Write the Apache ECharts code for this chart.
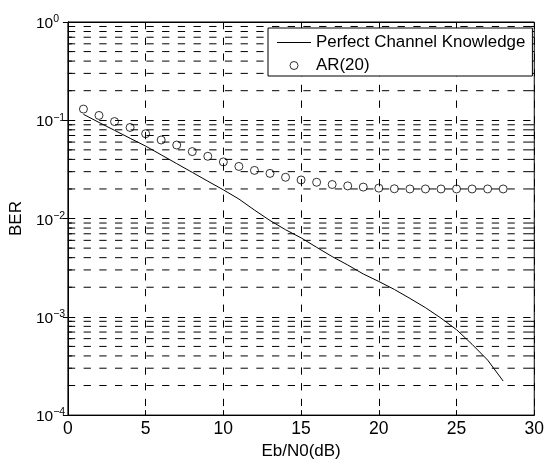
<!DOCTYPE html>
<html>
<head>
<meta charset="utf-8">
<script src="https://cdn.jsdelivr.net/npm/echarts@6/dist/echarts.min.js"></script>
<style>
html,body{margin:0;padding:0;background:#fff;}
#chart{width:547px;height:465px;}
</style>
</head>
<body>
<div id="chart"></div>
<script>
// Eb/N0 (dB)
var ebn0 = [1,2,3,4,5,6,7,8,9,10,11,12,13,14,15,16,17,18,19,20,21,22,23,24,25,26,27,28];
// BER, perfect channel knowledge
var berPerfect = [0.115,0.095,0.079,0.0656,0.0546,0.0445,0.0362,0.0295,0.024,0.0196,0.0158,0.0122,0.00955,0.0077,0.00636,0.0051,0.0041,0.00337,0.00273,0.00229,0.0019,0.00154,0.00124,0.00097,0.00074,0.000525,0.000363,0.000222];
// BER, AR(20)
var berAR = [0.130,0.112,0.097,0.0845,0.073,0.063,0.056,0.048,0.043,0.0377,0.0339,0.0309,0.0288,0.0263,0.0247,0.0234,0.0222,0.0215,0.0209,0.0204,0.0201,0.0200,0.0200,0.0200,0.0200,0.0200,0.0200,0.0200];
// axis ticks
var xTicks = [0,5,10,15,20,25,30];
var yDecades = [1e-4,1e-3,1e-2,1e-1,1];
var minorMultipliers = [2,3,4,5,6,7,8,9];

var minorValues = [];
for (var d = 0; d < yDecades.length - 1; d++) {
  for (var m = 0; m < minorMultipliers.length; m++) {
    minorValues.push([0, minorMultipliers[m] * yDecades[d]]);
  }
}

var FONT = 'Liberation Sans, Arial, Helvetica, sans-serif';
var DASH = [7.3, 8.4];

var chart = echarts.init(document.getElementById('chart'), null, {renderer: 'canvas'});

function supLabel(v) {
  var e = Math.round(Math.log(v) / Math.LN10);
  var s = e < 0 ? '\u2212' + (-e) : String(e);
  return '{b|10}{s|' + s + '}';
}

var option = {
  animation: false,
  backgroundColor: '#fff',
  textStyle: {fontFamily: FONT, color: '#000'},
  grid: {left: 67, top: 22, right: 10, bottom: 43, show: true, borderColor: '#000', borderWidth: 1, backgroundColor: 'transparent'},
  legend: {
    orient: 'vertical',
    left: 268, top: 28,
    backgroundColor: '#fff',
    borderColor: '#000', borderWidth: 1, borderRadius: 0,
    padding: [6, 7, 2, 9],
    itemGap: 6,
    itemWidth: 34, itemHeight: 8,
    textStyle: {fontFamily: FONT, fontSize: 16.9, color: '#000'},
    data: [
      {name: 'Perfect Channel Knowledge', icon: 'path://M0,0 L34,0 L34,1 L0,1 Z'},
      {name: 'AR(20)', icon: 'circle', itemStyle: {color: '#fff', borderColor: '#000', borderWidth: 1}}
    ]
  },
  xAxis: [{
    type: 'value', min: xTicks[0], max: xTicks[xTicks.length - 1], interval: 5,
    name: 'Eb/N0(dB)', nameLocation: 'middle', nameGap: 23,
    nameTextStyle: {fontFamily: FONT, fontSize: 17, color: '#000'},
    axisLine: {show: true, lineStyle: {color: '#000', width: 1}},
    axisTick: {show: true, inside: true, length: 5, lineStyle: {color: '#000'}},
    axisLabel: {fontFamily: FONT, fontSize: 17.5, color: '#000', margin: 5},
    splitLine: {show: true, lineStyle: {color: '#000', width: 1, type: DASH}}
  }, {
    type: 'value', position: 'top', min: xTicks[0], max: xTicks[xTicks.length - 1], interval: 5,
    axisLine: {show: true, lineStyle: {color: '#000'}},
    axisTick: {show: true, inside: true, length: 5, lineStyle: {color: '#000'}},
    axisLabel: {show: false},
    splitLine: {show: false}
  }],
  yAxis: [{
    type: 'log', logBase: 10, min: yDecades[0], max: yDecades[yDecades.length - 1],
    name: 'BER', nameLocation: 'middle', nameGap: 39, nameRotate: 90,
    nameTextStyle: {fontFamily: FONT, fontSize: 17, color: '#000'},
    axisLine: {show: true, lineStyle: {color: '#000', width: 1}},
    axisTick: {show: true, inside: true, length: 5, lineStyle: {color: '#000'}},
    axisLabel: {
      show: true, align: 'left', margin: 32,
      formatter: supLabel,
      rich: {
        b: {fontFamily: FONT, fontSize: 15.5, lineHeight: 16, color: '#000', padding: [3.5, 0, 0, 0]},
        s: {fontFamily: FONT, fontSize: 10.5, lineHeight: 11, color: '#000', verticalAlign: 'top'}
      }
    },
    splitLine: {show: true, lineStyle: {color: '#000', width: 1, type: DASH}}
  }, {
    type: 'log', logBase: 10, position: 'right', min: yDecades[0], max: yDecades[yDecades.length - 1],
    axisLine: {show: true, lineStyle: {color: '#000'}},
    axisTick: {show: true, inside: true, length: 5, lineStyle: {color: '#000'}},
    axisLabel: {show: false},
    splitLine: {show: false}
  }],
  series: [
    {
      name: 'minor grid',
      type: 'custom',
      silent: true,
      z: 1,
      xAxisIndex: 0, yAxisIndex: 0,
      data: minorValues,
      encode: {x: 0, y: 1},
      renderItem: function (params, api) {
        var cs = params.coordSys;
        var y = api.coord([0, api.value(1)])[1];
        return {
          type: 'group',
          children: [
            {type: 'line', shape: {x1: cs.x, y1: y, x2: cs.x + cs.width, y2: y},
             style: {stroke: '#000', lineWidth: 1, lineDash: DASH}},
            {type: 'line', shape: {x1: cs.x, y1: y, x2: cs.x + 4, y2: y},
             style: {stroke: '#000', lineWidth: 1}},
            {type: 'line', shape: {x1: cs.x + cs.width - 4, y1: y, x2: cs.x + cs.width, y2: y},
             style: {stroke: '#000', lineWidth: 1}}
          ]
        };
      }
    },
    {
      name: 'Perfect Channel Knowledge',
      type: 'line',
      xAxisIndex: 0, yAxisIndex: 0,
      data: ebn0.map(function (x, i) { return [x, berPerfect[i]]; }),
      symbol: 'none', showSymbol: false,
      lineStyle: {color: '#000', width: 1},
      itemStyle: {color: '#000'},
      z: 5
    },
    {
      name: 'AR(20)',
      type: 'scatter',
      xAxisIndex: 0, yAxisIndex: 0,
      data: ebn0.map(function (x, i) { return [x, berAR[i]]; }),
      symbol: 'circle', symbolSize: 8,
      itemStyle: {color: 'rgba(255,255,255,0)', borderColor: '#000', borderWidth: 1},
      z: 5
    }
  ]
};
chart.setOption(option);
</script>
</body>
</html>
